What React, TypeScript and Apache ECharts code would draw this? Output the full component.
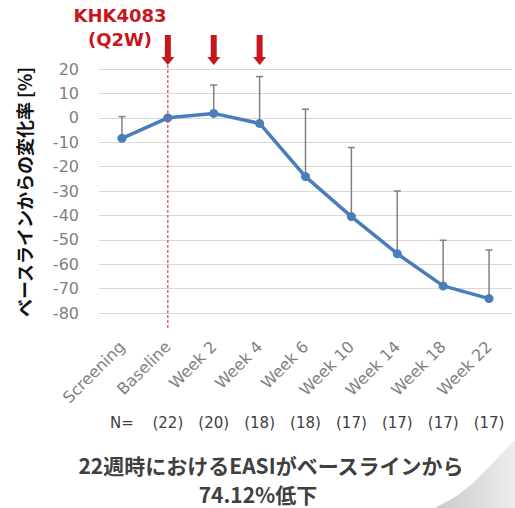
import React, { useEffect, useRef } from "react";
import * as echarts from "echarts";

const categories = ["Screening", "Baseline", "Week 2", "Week 4", "Week 6", "Week 10", "Week 14", "Week 18", "Week 22"];
const meanValues = [-8.4, 0, 1.8, -2.3, -24.1, -40.5, -55.7, -68.9, -74.1];
const upperValues = [0.5, null, 13.4, 16.9, 3.5, -12.2, -30.0, -50.2, -54.2];
const nLabels = ["N=", "(22)", "(20)", "(18)", "(18)", "(17)", "(17)", "(17)", "(17)"];
const dosingIndex = [1, 2, 3];
const yMin = -80;
const yMax = 20;
const yStep = 10;

const BLUE = "#4a7ebb";
const RED = "#c8161d";
const GRAY = "#7f7f7f";
const LATIN = "DejaVu Sans";
const CJK = "Noto Sans CJK JP";

export default function App() {
  const ref = useRef<HTMLDivElement>(null);
  useEffect(() => {
    if (!ref.current) return;
    const chart = echarts.init(ref.current, null, { renderer: "svg" });
    const errData = categories.map((_, i) => [i, meanValues[i], upperValues[i]]);
    chart.setOption({
      animation: false,
      backgroundColor: "#ffffff",
      grid: { left: 99, right: 3, top: 69, bottom: 195 },
      xAxis: [
        {
          type: "category",
          data: categories,
          boundaryGap: true,
          axisLine: { show: false },
          axisTick: { show: false },
          axisLabel: {
            rotate: 45,
            interval: 0,
            margin: 31,
            padding: [12, 0, 0, 0],
            color: GRAY,
            fontSize: 16,
            fontFamily: LATIN,
          },
          splitLine: { show: false },
        },
        {
          type: "category",
          data: nLabels,
          position: "bottom",
          offset: 102,
          boundaryGap: true,
          axisLine: { show: false },
          axisTick: { show: false },
          axisLabel: { interval: 0, margin: 0, color: "#404040", fontSize: 15, fontFamily: LATIN },
          splitLine: { show: false },
        },
      ],
      yAxis: {
        type: "value",
        min: yMin,
        max: yMax,
        interval: yStep,
        axisLine: { show: false },
        axisTick: { show: false },
        axisLabel: { margin: 20, color: GRAY, fontSize: 16, fontFamily: LATIN },
        splitLine: { lineStyle: { color: "#d9d9d9", width: 1 } },
      },
      series: [
        {
          type: "custom",
          name: "err",
          z: 1,
          data: errData,
          renderItem: (params: any, api: any) => {
            const hi = api.value(2);
            if (hi === null || hi === undefined || isNaN(hi)) return { type: "group", children: [] };
            const x = api.value(0);
            const p1 = api.coord([x, api.value(1)]);
            const p2 = api.coord([x, hi]);
            const st = { stroke: "#808080", lineWidth: 1.5 };
            return {
              type: "group",
              children: [
                { type: "line", shape: { x1: p1[0], y1: p1[1], x2: p2[0], y2: p2[1] }, style: st },
                { type: "line", shape: { x1: p2[0] - 3.5, y1: p2[1], x2: p2[0] + 3.5, y2: p2[1] }, style: st },
              ],
            };
          },
        },
        {
          type: "line",
          data: meanValues,
          z: 3,
          symbol: "circle",
          symbolSize: 9,
          lineStyle: { color: BLUE, width: 3.5 },
          itemStyle: { color: BLUE },
        },
        {
          type: "custom",
          name: "arrows",
          z: 4,
          data: dosingIndex.map((i) => [i, yMax]),
          renderItem: (params: any, api: any) => {
            const idx = api.value(0);
            const top = api.coord([idx, yMax]);
            const bottom = api.coord([idx, yMin]);
            const x = top[0];
            const t = top[1];
            const children: any[] = [
              { type: "rect", shape: { x: x - 3, y: t - 34, width: 6, height: 23 }, style: { fill: RED } },
              {
                type: "polygon",
                shape: { points: [[x - 6.5, t - 12], [x + 6.5, t - 12], [x, t - 4]] },
                style: { fill: RED },
              },
            ];
            if (params.dataIndex === 0) {
              children.push({
                type: "line",
                shape: { x1: x, y1: t - 4, x2: x, y2: bottom[1] + 17 },
                style: { stroke: "#e04040", lineWidth: 1.2, lineDash: [3, 2] },
              });
            }
            return { type: "group", children };
          },
        },
      ],
      graphic: [
        {
          type: "polygon",
          z: 0,
          shape: {
            points: [[515, 440], [503, 452], [490, 466], [473, 483], [458, 495], [448, 501], [435, 508], [515, 508]],
          },
          style: {
            fill: new echarts.graphic.LinearGradient(0, 0, 1, 0, [
              { offset: 0, color: "#c9c9c9" },
              { offset: 1, color: "#ededed" },
            ]),
          },
        },
        {
          type: "text",
          x: 120,
          y: 15,
          style: { text: "KHK4083", fill: RED, font: `bold 18px "${LATIN}"`, textAlign: "center", textVerticalAlign: "middle" },
        },
        {
          type: "text",
          x: 120,
          y: 39,
          style: { text: "(Q2W)", fill: RED, font: `bold 18px "${LATIN}"`, textAlign: "center", textVerticalAlign: "middle" },
        },
        {
          type: "text",
          x: 24,
          y: 192,
          rotation: Math.PI / 2,
          style: {
            text: "ベースラインからの変化率 [%]",
            fill: "#111111",
            font: `bold 18px "${CJK}"`,
            textAlign: "center",
            textVerticalAlign: "middle",
          },
        },
        {
          type: "text",
          x: 271,
          y: 465,
          style: {
            text: "22週時におけるEASIがベースラインから",
            fill: "#404040",
            font: `bold 21px "${CJK}"`,
            textAlign: "center",
            textVerticalAlign: "middle",
          },
        },
        {
          type: "text",
          x: 258,
          y: 494,
          style: {
            text: "74.12%低下",
            fill: "#404040",
            font: `bold 21px "${CJK}"`,
            textAlign: "center",
            textVerticalAlign: "middle",
          },
        },
      ],
    });
    return () => chart.dispose();
  }, []);
  return <div ref={ref} style={{ position: "fixed", left: 0, top: 0, width: 515, height: 508 }} />;
}
